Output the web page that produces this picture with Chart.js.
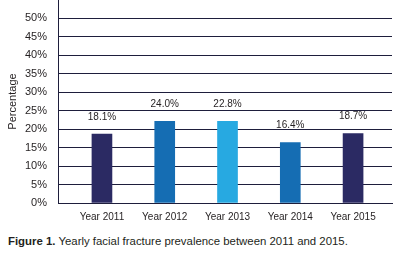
<!DOCTYPE html>
<html>
<head>
<meta charset="utf-8">
<script src="https://cdn.jsdelivr.net/npm/chart.js@4/dist/chart.umd.min.js"></script>
<style>
  body { margin: 0; background: #fff; width: 404px; height: 255px; overflow: hidden; }
  #wrap { position: relative; width: 404px; height: 228px; }
  #caption { position: absolute; left: 8px; top: 235px; font: 11.4px "Liberation Sans", Arial, sans-serif; color: #231f20; white-space: nowrap; }
  #caption b { font-weight: bold; }
</style>
</head>
<body>
<div id="wrap"><canvas id="chart" width="404" height="228"></canvas></div>
<div id="caption"><b>Figure 1.</b> Yearly facial fracture prevalence between 2011 and 2015.</div>
<script>
// Data
const years = ['Year 2011', 'Year 2012', 'Year 2013', 'Year 2014', 'Year 2015'];
const barHeights = [18.7, 22.1, 22.1, 16.4, 18.8];
const printedLabels = ['18.1%', '24.0%', '22.8%', '16.4%', '18.7%'];
const barColors = ['#2b2a63', '#156db3', '#27a9e1', '#156db3', '#2b2a63'];

const lineColor = '#1e1e3c';
const textColor = '#231f20';

// Draw the printed value above each bar
const valueLabels = {
    id: 'valueLabels',
    afterDatasetsDraw(chart) {
        const ctx = chart.ctx;
        const meta = chart.getDatasetMeta(0);
        ctx.save();
        ctx.font = '10px "Liberation Sans", Arial, sans-serif';
        ctx.fillStyle = textColor;
        ctx.textAlign = 'center';
        ctx.textBaseline = 'middle';
        meta.data.forEach((bar, i) => {
            ctx.fillText(printedLabels[i], bar.x, bar.y - 17);
        });
        ctx.restore();
    }
};

const ctx = document.getElementById('chart').getContext('2d');
const chart = new Chart(ctx, {
    type: 'bar',
    data: {
        datasets: [{
            data: barHeights.map((v, i) => ({ x: i, y: v })),
            backgroundColor: barColors,
            barThickness: 20
        }]
    },
    options: {
        responsive: false,
        animation: false,
        layout: { padding: { top: 0, right: 12, left: 0, bottom: 0 } },
        plugins: {
            legend: { display: false },
            tooltip: { enabled: false }
        },
        scales: {
            x: {
                type: 'linear',
                offset: false,
                min: -0.7,
                max: 4.62,
                afterBuildTicks: (scale) => {
                    scale.ticks = years.map((y, i) => ({ value: i }));
                },
                afterFit: (s) => { s.height = 25; },
                ticks: {
                    callback: (v) => years[v],
                    color: textColor,
                    font: { family: '"Liberation Sans", Arial, sans-serif', size: 10 },
                    padding: 8,
                    maxRotation: 0,
                    autoSkip: false
                },
                grid: { display: false, drawTicks: false },
                border: { display: true, color: lineColor, width: 1 }
            },
            y: {
                min: 0,
                max: 55,
                afterFit: (s) => { s.paddingTop = 0; s.width = 58; },
                ticks: {
                    stepSize: 5,
                    callback: (v) => v === 55 ? '' : v + '%',
                    color: textColor,
                    font: { family: '"Liberation Sans", Arial, sans-serif', size: 11 },
                    padding: 11
                },
                grid: {
                    color: (c) => (c.tick && c.tick.value === 55) ? 'rgba(0,0,0,0)' : lineColor,
                    drawTicks: false
                },
                border: { display: true, color: lineColor, width: 1 },
                title: {
                    display: true,
                    text: 'Percentage',
                    color: textColor,
                    font: { family: '"Liberation Sans", Arial, sans-serif', size: 11 },
                    padding: { top: 6, bottom: 4 }
                }
            }
        }
    },
    plugins: [valueLabels]
});
</script>
</body>
</html>
